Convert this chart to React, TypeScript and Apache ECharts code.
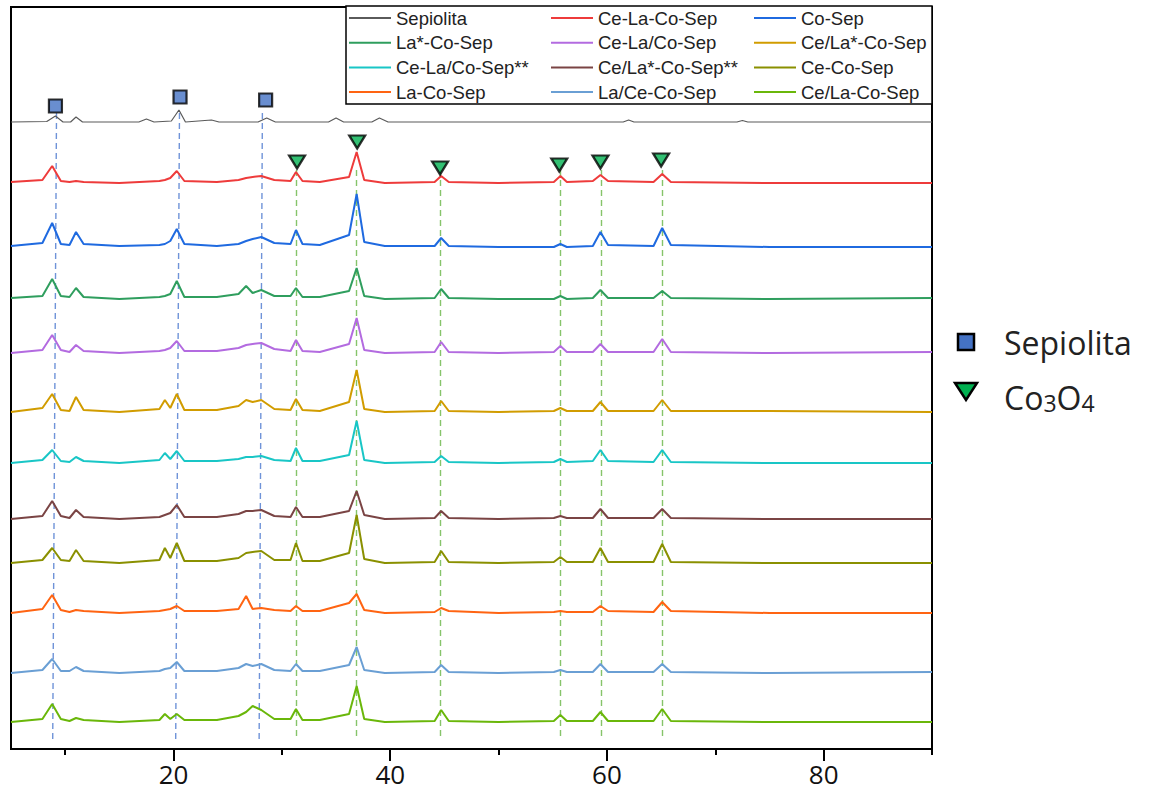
import React, { useEffect, useRef } from "react";
import * as echarts from "echarts";

const seriesNames = [
  "Sepiolita", "Ce-La-Co-Sep", "Co-Sep",
  "La*-Co-Sep", "Ce-La/Co-Sep", "Ce/La*-Co-Sep",
  "Ce-La/Co-Sep**", "Ce/La*-Co-Sep**", "Ce-Co-Sep",
  "La-Co-Sep", "La/Ce-Co-Sep", "Ce/La-Co-Sep",
];
const seriesColors = [
  "#5a5a5a", "#ee3b3b", "#1f6ae0",
  "#2f9e5e", "#b36be0", "#d19c00",
  "#19c6c6", "#7a4444", "#8a9000",
  "#ff6412", "#6a9fd4", "#6ab70a",
];
// vertical offset of each stacked pattern (a.u.)
const baselines = [627, 566, 502, 450, 396, 337, 286, 230, 186, 136, 76, 27];

// Sepiolita pattern
const sepTheta = [5, 8.3, 9.1, 9.8, 10.5, 11.0, 11.6, 16.8, 17.5, 18.2, 19.8, 20.5, 21.1, 23.5, 24.2, 27.8, 28.6, 29.4, 34.3, 35.0, 35.7, 38.3, 39.0, 39.8, 61.5, 62.0, 62.5, 72.0, 72.5, 73.0, 90];
const sepIntensity = [0, 0.5, 6, 0, 0, 5, 0, 0, 3, 0, 1, 12, 0, 2, 0, 0, 4, 0, 0, 4, 0, 0, 4, 0, 0, 2, 0, 0, 1.5, 0, 0];

// shared 2θ sample points for the catalysts
const twoTheta = [5, 7.9, 8.8, 9.6, 10.4, 11.0, 11.7, 15.0, 18.7, 19.2, 19.7, 20.3, 21.0, 24.0, 26.0, 26.7, 27.3, 28.1, 29.3, 30.8, 31.3, 31.9, 33.5, 36.2, 36.9, 37.6, 39.5, 44.1, 44.7, 45.4, 50.0, 55.1, 55.7, 56.3, 58.7, 59.4, 60.1, 64.3, 65.1, 65.9, 75.0, 90];
const ceLaCoSep = [1, 3, 17, 2, 1, 2, 1, 0, 2, 3, 5, 12, 2, 1, 3, 5, 6, 7, 3, 2, 11, 2, 1, 6, 31, 3, 0, 1, 7, 1, 0, 1, 7, 1, 2, 8, 2, 1, 9, 1, 0, 0];
const coSep = [1, 4, 24, 3, 2, 15, 3, 1, 2, 3, 6, 18, 3, 1, 3, 6, 8, 10, 4, 3, 17, 3, 2, 12, 53, 5, 1, 1, 9, 1, 0, 0, 3, 0, 1, 15, 2, 1, 19, 2, 0, 0];
const laStarCoSep = [1, 3, 20, 3, 2, 11, 2, 0, 2, 3, 5, 18, 2, 2, 5, 13, 6, 9, 3, 3, 11, 2, 2, 8, 31, 3, 0, 1, 10, 1, 0, 0, 3, 0, 1, 9, 1, 1, 8, 1, 0, 1];
const ceLaSlashCoSep = [0, 3, 18, 3, 1, 8, 2, 0, 2, 3, 5, 12, 2, 2, 5, 8, 9, 10, 4, 2, 13, 2, 1, 9, 35, 3, 0, 1, 11, 1, 0, 1, 7, 1, 1, 9, 1, 1, 14, 1, 0, 1];
const ceLaStarCoSep = [0, 4, 18, 2, 1, 15, 2, 0, 3, 12, 4, 18, 2, 2, 6, 12, 10, 12, 3, 2, 13, 2, 1, 10, 42, 3, 0, 1, 11, 1, 0, 1, 4, 1, 1, 10, 1, 1, 12, 1, 1, 0];
const ceLaSlashCoSep2 = [0, 3, 13, 2, 1, 6, 2, 0, 3, 10, 4, 12, 2, 2, 4, 6, 6, 7, 3, 2, 15, 2, 2, 8, 42, 3, 0, 1, 7, 1, 0, 1, 4, 1, 2, 13, 2, 1, 13, 1, 0, 0];
const ceLaStarCoSep2 = [0, 3, 18, 3, 1, 9, 2, 0, 2, 4, 6, 14, 2, 2, 5, 8, 8, 9, 3, 2, 12, 2, 2, 8, 28, 4, 0, 1, 8, 1, 0, 1, 3, 1, 1, 10, 1, 1, 10, 1, 0, 0];
const ceCoSep = [0, 3, 15, 3, 2, 13, 2, 0, 3, 15, 5, 20, 2, 2, 5, 10, 11, 12, 3, 3, 20, 2, 2, 10, 48, 4, 0, 1, 12, 1, 0, 1, 6, 1, 1, 15, 1, 1, 19, 1, 0, 0];
const laCoSep = [0, 4, 18, 3, 1, 3, 2, 0, 2, 3, 4, 7, 2, 2, 4, 17, 4, 5, 3, 2, 7, 2, 2, 10, 19, 3, 0, 1, 5, 2, 0, 1, 2, 1, 1, 7, 2, 1, 11, 2, 0, 0];
const laCeCoSep = [0, 3, 14, 2, 2, 6, 2, 0, 2, 4, 5, 11, 2, 2, 5, 9, 7, 9, 3, 2, 9, 2, 2, 8, 26, 3, 0, 1, 8, 1, 0, 1, 3, 1, 1, 9, 1, 1, 9, 1, 0, 1];
const ceSlashLaCoSep = [0, 3, 18, 3, 1, 4, 2, 0, 2, 8, 3, 8, 2, 2, 6, 10, 16, 12, 3, 3, 13, 2, 2, 8, 36, 3, 0, 1, 12, 1, 0, 1, 7, 1, 1, 10, 1, 1, 13, 1, 0, 0];

const catalystPatterns = [
  ceLaCoSep, coSep, laStarCoSep, ceLaSlashCoSep, ceLaStarCoSep, ceLaSlashCoSep2,
  ceLaStarCoSep2, ceCoSep, laCoSep, laCeCoSep, ceSlashLaCoSep,
];

// phase markers
const sepMarkTheta = [9.1, 20.6, 28.5];
const sepMarkY = [643, 652, 649];
const coMarkTheta = [31.4, 36.95, 44.6, 55.6, 59.4, 65.0];
const coMarkY = [587, 607, 581, 584, 587, 589];
// reference (dashed) lines: [top 2θ, bottom 2θ]
const sepLineTop = [9.2, 20.55, 28.2];
const sepLineBottom = [8.85, 20.2, 27.9];
const coLineTheta = [31.33, 36.85, 44.63, 55.73, 59.46, 65.07];

const majorTicks = [20, 40, 60, 80];
const minorTicks = [10, 30, 50, 70, 90];

export default function App() {
  const ref = useRef<HTMLDivElement>(null);
  useEffect(() => {
    const chart = echarts.init(ref.current!, null, { renderer: "svg" });

    const traceSeries: any[] = seriesNames.map((name, i) => {
      const data =
        i === 0
          ? sepTheta.map((x, k) => [x, baselines[0] + sepIntensity[k]])
          : twoTheta.map((x, k) => [x, baselines[i] + catalystPatterns[i - 1][k]]);
      return {
        name,
        type: "line",
        xAxisIndex: 0,
        data,
        symbol: "none",
        showSymbol: false,
        color: seriesColors[i],
        lineStyle: { color: seriesColors[i], width: i === 0 ? 1.2 : 2 },
        z: 3,
        silent: true,
      };
    });

    const markLines: any[] = [];
    sepLineTop.forEach((t, k) => {
      markLines.push([
        { coord: [t, 636], lineStyle: { color: "#6f93d8", width: 1.4, type: [6, 4] } },
        { coord: [sepLineBottom[k], 9] },
      ]);
    });
    coLineTheta.forEach((t) => {
      markLines.push([
        { coord: [t, 579], lineStyle: { color: "#86c46a", width: 1.4, type: [6, 4] } },
        { coord: [t, 12] },
      ]);
    });

    const option: any = {
      animation: false,
      backgroundColor: "#fff",
      grid: {
        left: 11, right: 225, top: 7, bottom: 53,
        show: true, borderColor: "#000", borderWidth: 2, backgroundColor: "transparent",
      },
      xAxis: [
        {
          type: "value", min: 5, max: 90, position: "bottom",
          axisLine: { show: true, onZero: false, lineStyle: { color: "#000", width: 2 } },
          axisTick: { show: true, customValues: majorTicks, length: 12, lineStyle: { color: "#000", width: 2 } },
          axisLabel: {
            show: true, customValues: majorTicks, margin: 12,
            fontFamily: "Open Sans", fontSize: 26, color: "#111",
          },
          splitLine: { show: false },
        },
        {
          type: "value", min: 5, max: 90, position: "bottom",
          axisLine: { show: false },
          axisTick: { show: true, customValues: minorTicks, length: 6, lineStyle: { color: "#000", width: 2 } },
          axisLabel: { show: false },
          splitLine: { show: false },
        },
      ],
      yAxis: {
        type: "value", min: 0, max: 742, show: false,
        axisLine: { show: false }, axisTick: { show: false }, axisLabel: { show: false }, splitLine: { show: false },
      },
      legend: [0, 1, 2].map((c) => ({
        orient: "vertical",
        left: [349, 551, 754][c],
        top: 8,
        padding: 0,
        itemWidth: 42,
        itemHeight: 2,
        itemGap: 4.7,
        icon: "rect",
        selectedMode: false,
        z: 6,
        data: [c, c + 3, c + 6, c + 9].map((i) => seriesNames[i]),
        textStyle: { fontFamily: "Liberation Sans", fontSize: 18.5, color: "#222", lineHeight: 20 },
      })),
      series: [
        ...traceSeries,
        {
          name: "sepMarks",
          type: "scatter",
          xAxisIndex: 0,
          data: sepMarkTheta.map((x, k) => [x, sepMarkY[k]]),
          symbol: "rect",
          symbolSize: 13,
          itemStyle: { color: "#4472c4", borderColor: "#000", borderWidth: 2.2 },
          z: 5,
          silent: true,
          markLine: {
            silent: true,
            symbol: ["none", "none"],
            label: { show: false },
            z: 1,
            data: markLines,
          },
        },
        {
          name: "coMarks",
          type: "scatter",
          xAxisIndex: 0,
          data: coMarkTheta.map((x, k) => [x, coMarkY[k]]),
          symbol: "triangle",
          symbolRotate: 180,
          symbolSize: [16, 13],
          itemStyle: { color: "#00b050", borderColor: "#000", borderWidth: 2.2 },
          z: 5,
          silent: true,
        },
      ],
      graphic: [
        {
          type: "rect", z: 4, silent: true,
          shape: { x: 346, y: 6, width: 586, height: 98 },
          style: { fill: "#fff", stroke: "#000", lineWidth: 1.5 },
        },
        {
          type: "rect", z: 4, silent: true,
          shape: { x: 958, y: 334, width: 16, height: 16 },
          style: { fill: "#4472c4", stroke: "#000", lineWidth: 2.5 },
        },
        {
          type: "text", z: 4, silent: true, x: 1004, y: 342,
          style: { text: "Sepiolita", fontFamily: "Open Sans", fontSize: 32, fill: "#222", verticalAlign: "middle" },
        },
        {
          type: "polygon", z: 4, silent: true,
          shape: { points: [[955, 383], [977, 383], [966, 400]] },
          style: { fill: "#00b050", stroke: "#000", lineWidth: 2.5 },
        },
        {
          type: "text", z: 4, silent: true, x: 1004, y: 397,
          style: {
            text: "{a|Co}{b|3}{a|O}{b|4}",
            verticalAlign: "middle",
            fill: "#222",
            rich: {
              a: { fontFamily: "Open Sans", fontSize: 32, fill: "#222" },
              b: { fontFamily: "Open Sans", fontSize: 23, fill: "#222", padding: [12, 0, 0, 0] },
            },
          },
        },
      ],
    };
    chart.setOption(option);
    return () => chart.dispose();
  }, []);
  return (
    <div
      ref={ref}
      style={{ position: "absolute", left: 0, top: 0, width: 1157, height: 802 }}
    />
  );
}
